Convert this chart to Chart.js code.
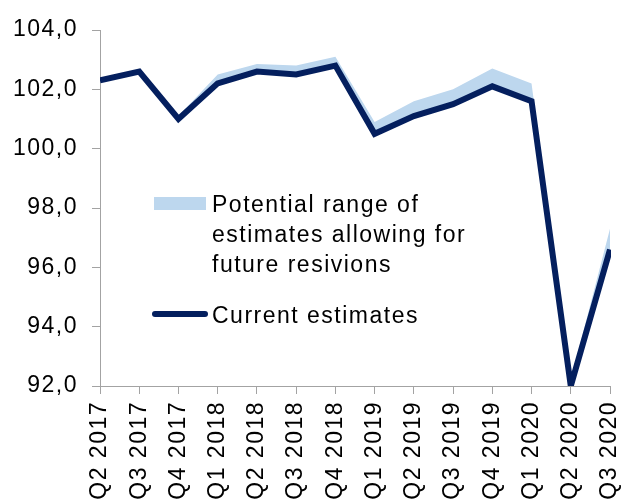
<!DOCTYPE html>
<html>
<head>
<meta charset="utf-8">
<script src="https://cdn.jsdelivr.net/npm/chart.js@4/dist/chart.umd.min.js"></script>
<style>
  html, body { margin: 0; padding: 0; background: #fff; }
  #wrap { width: 621px; height: 501px; position: relative; }
</style>
</head>
<body>
<div id="wrap"><canvas id="chart"></canvas></div>
<script>
const quarters = ['Q2 2017', 'Q3 2017', 'Q4 2017', 'Q1 2018', 'Q2 2018', 'Q3 2018', 'Q4 2018',
  'Q1 2019', 'Q2 2019', 'Q3 2019', 'Q4 2019', 'Q1 2020', 'Q2 2020', 'Q3 2020'];
const currentEstimates = [102.3, 102.6, 101.0, 102.2, 102.6, 102.5, 102.8,
  100.5, 101.1, 101.5, 102.1, 101.6, 92.0, 96.6];
// top of the range once later revisions are taken into account
const upperRange = [102.3, 102.6, 101.1, 102.5, 102.85, 102.8, 103.1,
  100.9, 101.6, 102.0, 102.7, 102.2, 92.2, 97.3];
const yTicks = [92, 94, 96, 98, 100, 102, 104];

const navy = '#041f5e';
const lightBlue = '#bdd7ee';
const axisGrey = '#a3a3a3';
const font = '"Liberation Sans", Arial, sans-serif';
const fontSize = 23;
const tracking = '1.5px';

// wider letter spacing for all canvas text
const spacing = {
  id: 'spacing',
  beforeUpdate(chart) { chart.ctx.letterSpacing = tracking; },
  beforeDraw(chart) { chart.ctx.letterSpacing = tracking; }
};

// legend sits inside the plot area, left of the drop
const insideLegend = {
  id: 'insideLegend',
  afterDraw(chart) {
    const ctx = chart.ctx;
    ctx.save();
    ctx.letterSpacing = tracking;
    ctx.fillStyle = lightBlue;
    ctx.fillRect(154, 197, 52, 13);
    ctx.strokeStyle = navy;
    ctx.lineWidth = 6;
    ctx.lineCap = 'round';
    ctx.beginPath();
    ctx.moveTo(155, 314);
    ctx.lineTo(205, 314);
    ctx.stroke();
    ctx.fillStyle = '#000';
    ctx.font = fontSize + 'px ' + font;
    ctx.textAlign = 'left';
    ctx.textBaseline = 'alphabetic';
    ['Potential range of', 'estimates allowing for', 'future resivions'].forEach((t, i) => {
      ctx.fillText(t, 212, 212 + i * 30);
    });
    ctx.fillText('Current estimates', 212, 323);
    ctx.restore();
  }
};

new Chart(document.getElementById('chart'), {
  type: 'line',
  data: {
    labels: quarters,
    datasets: [
      {
        label: 'Current estimates',
        data: currentEstimates,
        borderColor: navy,
        borderWidth: 6,
        pointRadius: 0,
        tension: 0,
        fill: false,
        clip: { left: 0, right: 1, top: 5, bottom: 0 }
      },
      {
        label: 'Potential range of estimates allowing for future resivions',
        data: upperRange,
        borderWidth: 0,
        borderColor: lightBlue,
        backgroundColor: lightBlue,
        pointRadius: 0,
        tension: 0,
        fill: '-1'
      }
    ]
  },
  options: {
    responsive: true,
    maintainAspectRatio: false,
    animation: false,
    layout: { padding: { top: 30, right: 11, left: 0, bottom: 0 } },
    plugins: { legend: { display: false }, tooltip: { enabled: false } },
    scales: {
      x: {
        offset: false,
        grid: { drawOnChartArea: false, tickLength: 8, color: axisGrey },
        border: { color: axisGrey },
        ticks: {
          autoSkip: false, minRotation: 90, maxRotation: 90, padding: 7,
          color: '#000', font: { family: font, size: fontSize }
        },
        afterFit(scale) {
          scale.height = 115;
          scale.paddingLeft = 0;
          scale.paddingRight = 11;
        }
      },
      y: {
        min: 92,
        max: 104,
        afterBuildTicks(scale) { scale.ticks = yTicks.map(v => ({ value: v })); },
        grid: { drawOnChartArea: false, tickLength: 8, color: axisGrey },
        border: { color: axisGrey },
        ticks: {
          padding: 14,
          color: '#000',
          font: { family: font, size: fontSize },
          callback: v => v.toFixed(1).replace('.', ',')
        },
        afterFit(scale) { scale.width = 100; }
      }
    }
  },
  plugins: [spacing, insideLegend]
});
</script>
</body>
</html>
